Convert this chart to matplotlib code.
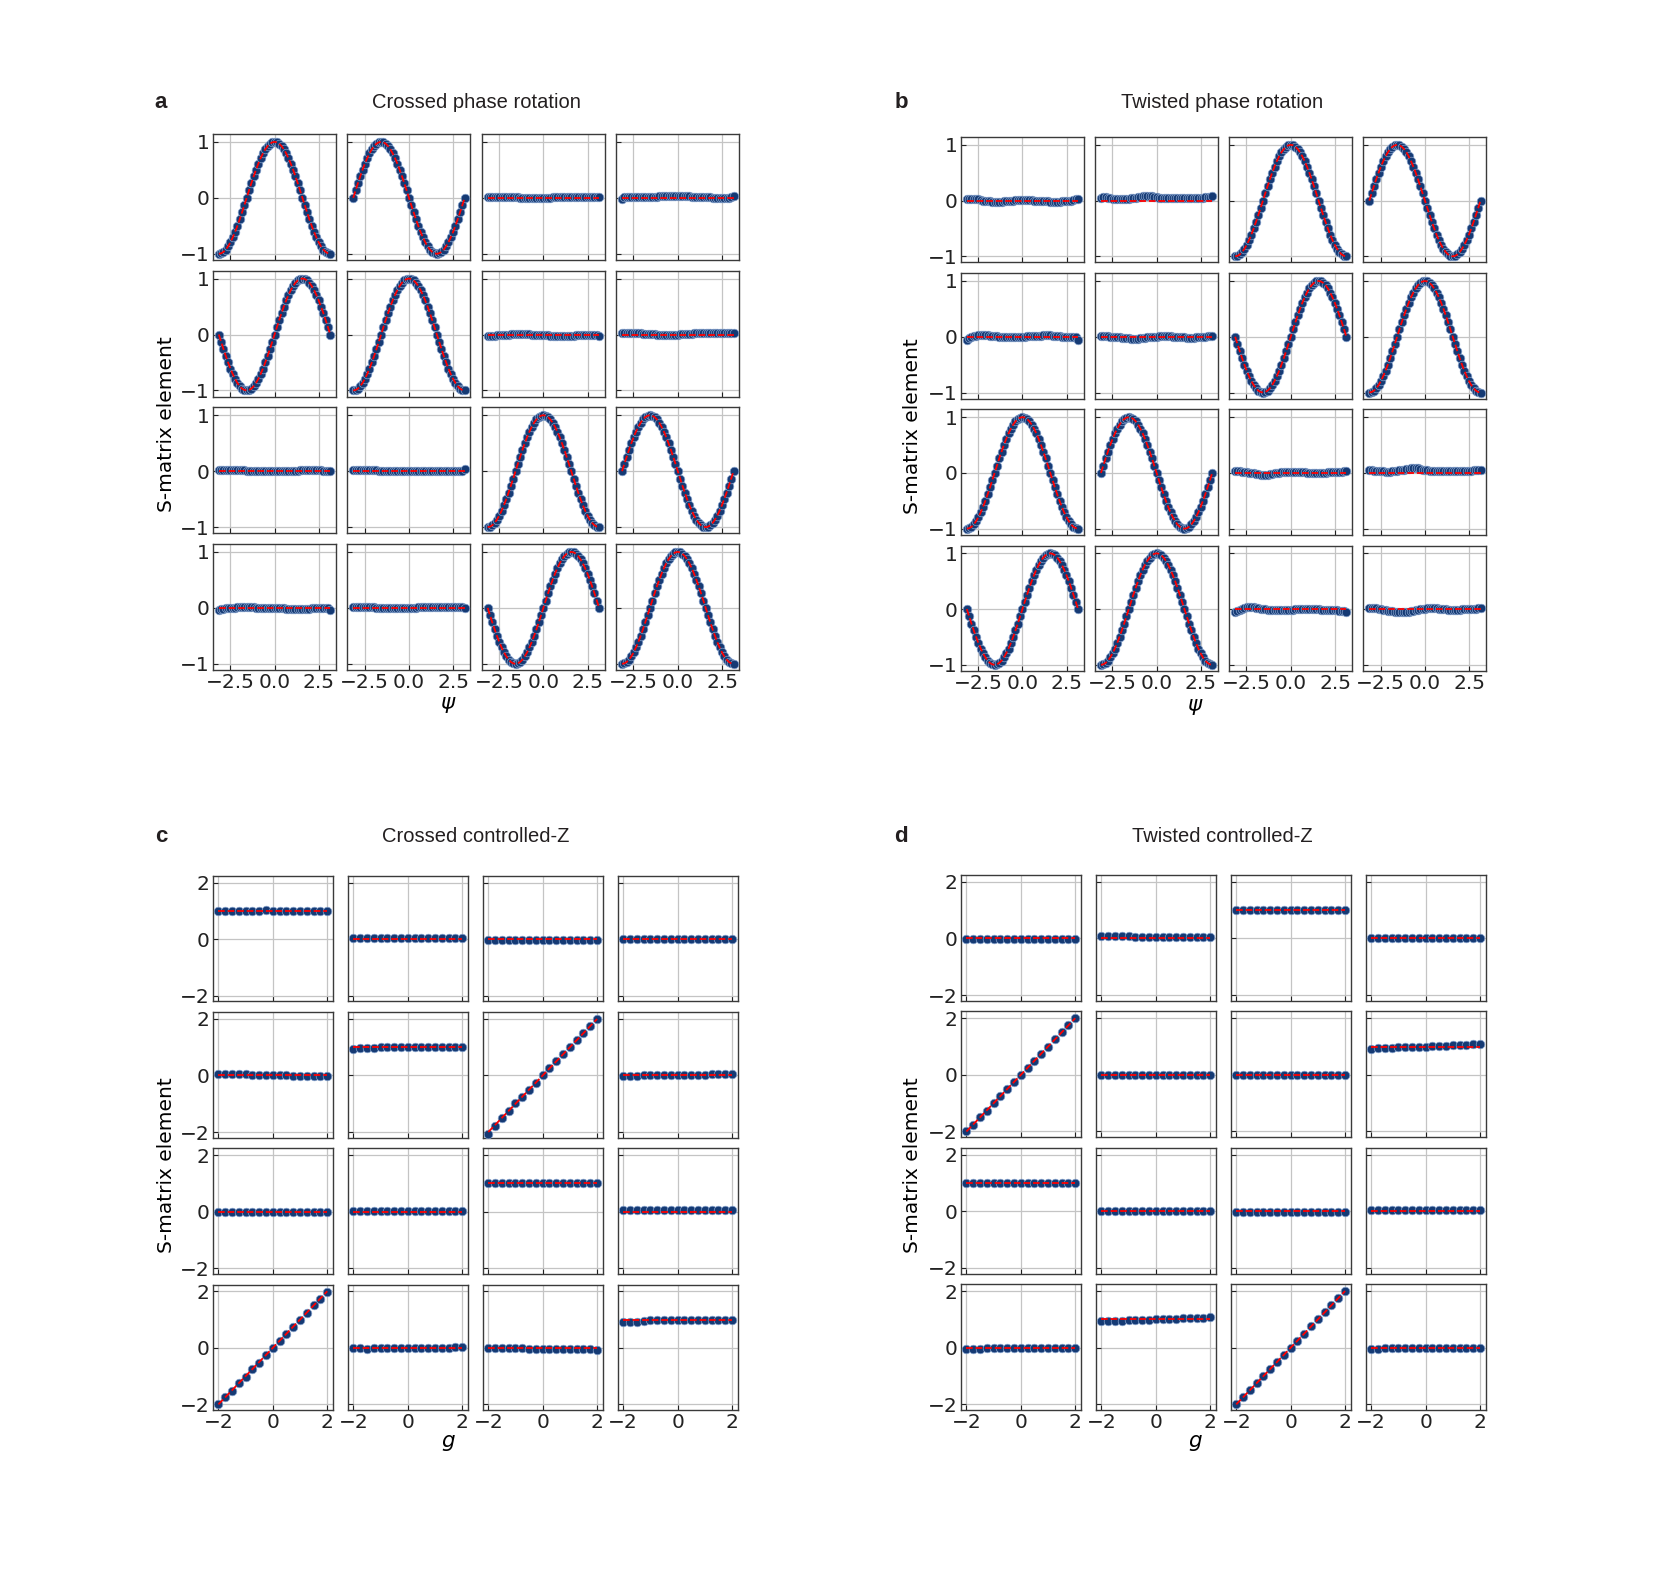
import numpy as np
import matplotlib.pyplot as plt

# canvas in pixels (dpi 100)
W, H = 1661, 1569

# ---- data: phase rotation (psi grid, 49 samples) ----
psi = np.linspace(-np.pi, np.pi, 49)
cos_vals = [-1, -0.991, -0.966, -0.924, -0.866, -0.793, -0.707, -0.609, -0.5,
            -0.383, -0.259, -0.131, 0, 0.131, 0.259, 0.383, 0.5, 0.609, 0.707,
            0.793, 0.866, 0.924, 0.966, 0.991, 1, 0.991, 0.966, 0.924, 0.866,
            0.793, 0.707, 0.609, 0.5, 0.383, 0.259, 0.131, 0, -0.131, -0.259,
            -0.383, -0.5, -0.609, -0.707, -0.793, -0.866, -0.924, -0.966,
            -0.991, -1]
sin_vals = [0, -0.131, -0.259, -0.383, -0.5, -0.609, -0.707, -0.793, -0.866,
            -0.924, -0.966, -0.991, -1, -0.991, -0.966, -0.924, -0.866, -0.793,
            -0.707, -0.609, -0.5, -0.383, -0.259, -0.131, 0, 0.131, 0.259,
            0.383, 0.5, 0.609, 0.707, 0.793, 0.866, 0.924, 0.966, 0.991, 1,
            0.991, 0.966, 0.924, 0.866, 0.793, 0.707, 0.609, 0.5, 0.383, 0.259,
            0.131, 0]

# which S-matrix element sits in each cell
crossed_rot = [['cos', '-sin', 0, 0],
               ['sin', 'cos', 0, 0],
               [0, 0, 'cos', '-sin'],
               [0, 0, 'sin', 'cos']]
twisted_rot = [[0, 0, 'cos', '-sin'],
               [0, 0, 'sin', 'cos'],
               ['cos', '-sin', 0, 0],
               ['sin', 'cos', 0, 0]]

# measured residuals of the zero elements, in units of 0.01
crossed_rot_zero = {
    (0, 2): [2, 2, 2, 2, 2, 2, 2, 2, 2, 2, 1, 1, 1, 1, 0, 0, 0, 0, -1, -1, -1,
             -1, -1, 0, 0, 0, 0, 0, 1, 1, 1, 1, 2, 2, 2, 2, 2, 2, 2, 2, 2, 1,
             1, 1, 1, 1, 1, 1, 1],
    (0, 3): [-2, 1, 2, 2, 2, 2, 2, 2, 2, 2, 2, 2, 2, 2, 2, 2, 3, 3, 3, 3, 3,
             3, 3, 3, 3, 3, 3, 3, 3, 3, 2, 2, 2, 2, 2, 2, 1, 1, 1, 0, 0, 0,
             -1, -1, -1, 0, 0, 1, 4],
    (1, 2): [-3, -2, -2, -2, -1, -1, -1, 0, 0, 0, 1, 1, 1, 1, 1, 1, 1, 1, 1, 0,
             0, 0, 0, -1, -1, -1, -1, -2, -2, -2, -2, -2, -2, -2, -2, -2, -2,
             -2, -1, -1, -1, -1, -1, -1, -1, -1, -1, -1, -2],
    (1, 3): [2, 2, 2, 2, 2, 2, 2, 2, 2, 1, 1, 1, 1, 1, 1, 0, 0, 0, 0, 0, 0, 0,
             0, 0, 0, 1, 1, 1, 1, 1, 1, 2, 2, 2, 2, 2, 2, 3, 3, 3, 3, 3, 3, 2,
             2, 2, 2, 2, 2],
    (2, 0): [2, 2, 2, 2, 2, 2, 2, 2, 2, 2, 2, 2, 1, 1, 1, 1, 1, 1, 1, 1, 0, 0,
             0, 0, 0, 0, 1, 1, 1, 1, 1, 1, 1, 1, 1, 2, 2, 2, 2, 2, 2, 2, 2, 2,
             2, 1, 1, 1, 1],
    (2, 1): [2, 2, 2, 2, 2, 2, 2, 2, 2, 2, 2, 1, 1, 1, 1, 1, 1, 1, 1, 1, 1, 1,
             1, 1, 1, 1, 1, 1, 1, 1, 1, 1, 1, 1, 1, 1, 1, 1, 1, 1, 0, 0, 0, 0,
             0, 0, 0, 1, 4],
    (3, 0): [-3, -2, -2, -1, -1, 0, 0, 0, 1, 1, 1, 1, 1, 1, 1, 1, 0, 0, 0, 0, 0,
             -1, -1, -1, -1, -1, -1, -1, -1, -2, -2, -2, -2, -2, -2, -2, -2,
             -2, -2, -2, -1, -1, -1, -1, -1, -1, -1, -1, -4],
    (3, 1): [1, 1, 1, 1, 1, 1, 1, 1, 1, 1, 0, 0, 0, 0, 0, -1, -1, -1, -1, -1,
             -1, -1, -1, 0, 0, 0, 0, 0, 1, 1, 1, 1, 1, 1, 1, 2, 2, 2, 2, 2, 2,
             2, 2, 2, 2, 1, 1, 1, 0],
}
twisted_rot_zero = {
    (0, 0): [2, 3, 3, 3, 2, 2, 1, 0, 0, -1, -1, -2, -2, -2, -2, -2, -1, -1, 0,
             0, 0, 1, 1, 1, 1, 1, 1, 1, 1, 0, 0, 0, -1, -1, -1, -1, -2, -2,
             -2, -2, -2, -1, -1, -1, 0, 0, 1, 2, 2],
    (0, 1): [5, 6, 6, 5, 4, 3, 2, 2, 2, 2, 2, 3, 3, 4, 4, 5, 6, 7, 8, 8, 9, 9,
             8, 7, 6, 5, 5, 4, 4, 4, 4, 4, 4, 4, 4, 4, 4, 4, 5, 5, 5, 5, 5, 5,
             5, 6, 6, 6, 9],
    (1, 0): [-5, -3, -1, 1, 2, 3, 3, 3, 3, 3, 2, 2, 1, 1, 0, 0, 0, 0, 0, 0, 0,
             0, 0, 0, 0, 0, 1, 1, 1, 1, 2, 2, 2, 3, 3, 3, 3, 2, 2, 1, 1, 0, 0,
             -1, -1, -1, -1, -1, -5],
    (1, 1): [1, 1, 1, 1, 0, 0, 0, -1, -1, -2, -2, -3, -3, -4, -4, -4, -4, -3,
             -3, -2, -1, -1, 0, 0, 0, 1, 1, 1, 1, 1, 1, 0, 0, 0, -1, -1, -1,
             -2, -2, -2, -2, -1, -1, 0, 0, 0, 1, 1, 1],
    (2, 2): [3, 3, 3, 2, 2, 1, 0, 0, -1, -2, -2, -3, -3, -3, -3, -2, -2, -1, 0,
             0, 1, 1, 2, 2, 2, 2, 2, 2, 1, 1, 1, 0, 0, 0, -1, -1, -1, 0, 0, 0,
             1, 1, 1, 2, 2, 2, 2, 3, 3],
    (2, 3): [5, 5, 4, 4, 3, 3, 3, 2, 2, 2, 3, 3, 4, 5, 5, 6, 7, 7, 8, 8, 8, 8,
             7, 6, 5, 5, 4, 4, 3, 3, 3, 3, 3, 3, 3, 3, 3, 3, 4, 4, 4, 4, 4, 4,
             4, 5, 5, 5, 6],
    (3, 2): [-5, -3, -1, 1, 2, 3, 3, 3, 3, 2, 2, 1, 0, 0, -1, -1, -1, -2, -2,
             -2, -2, -2, -2, -2, -1, -1, 0, 0, 1, 1, 1, 1, 1, 1, 0, 0, 0, -1,
             -1, -1, -2, -2, -2, -2, -2, -3, -3, -3, -5],
    (3, 3): [2, 2, 2, 2, 1, 0, -1, -2, -3, -4, -4, -5, -5, -6, -6, -6, -6, -5,
             -4, -3, -2, -1, 0, 1, 1, 2, 2, 2, 2, 2, 1, 1, 0, 0, -1, -1, -1,
             -1, -1, -1, 0, 0, 0, 1, 1, 1, 1, 2, 2],
}

# ---- data: controlled-Z (g grid, 17 samples) ----
g_vals = [-2.0, -1.75, -1.5, -1.25, -1.0, -0.75, -0.5, -0.25, 0.0,
          0.25, 0.5, 0.75, 1.0, 1.25, 1.5, 1.75, 2.0]

crossed_cz = [[1, 0, 0, 0],
              [0, 1, 'g', 0],
              [0, 0, 1, 0],
              ['g', 0, 0, 1]]
twisted_cz = [[0, 0, 1, 0],
              ['g', 0, 0, 1],
              [1, 0, 0, 0],
              [0, 1, 'g', 0]]

crossed_cz_meas = [
    [[0.99, 1.0, 0.99, 1.0, 1.0, 1.0, 1.01, 1.02, 1.01, 1.01, 1.0, 1.0, 1.0, 1.0, 1.0, 0.99, 0.99],
     [0.05, 0.06, 0.05, 0.05, 0.05, 0.05, 0.05, 0.05, 0.04, 0.04, 0.04, 0.04, 0.04, 0.04, 0.04, 0.05, 0.06],
     [-0.01, -0.01, -0.02, -0.01, -0.01, -0.01, -0.01, -0.01, -0.01, -0.01, -0.02, -0.01, -0.01, -0.01, -0.01, -0.01, -0.01],
     [0.02, 0.02, 0.02, 0.02, 0.02, 0.02, 0.02, 0.02, 0.02, 0.02, 0.02, 0.02, 0.02, 0.02, 0.02, 0.02, 0.02]],
    [[0.07, 0.06, 0.05, 0.04, 0.04, 0.03, 0.03, 0.02, 0.01, 0.01, 0.0, -0.01, -0.01, -0.02, -0.01, -0.01, -0.01],
     [0.93, 0.96, 0.97, 0.98, 0.99, 0.99, 1.0, 1.0, 1.01, 1.01, 1.01, 1.01, 1.0, 1.0, 1.0, 1.0, 1.0],
     [-2.08, -1.78, -1.52, -1.26, -0.98, -0.76, -0.5, -0.26, 0.0, 0.26, 0.5, 0.76, 1.0, 1.26, 1.5, 1.76, 2.0],
     [-0.02, -0.01, -0.01, 0.0, 0.0, 0.0, 0.01, 0.01, 0.02, 0.02, 0.02, 0.03, 0.03, 0.04, 0.04, 0.05, 0.06]],
    [[0.0, 0.0, 0.0, 0.0, 0.0, 0.0, 0.0, 0.0, 0.0, 0.0, 0.0, 0.0, 0.0, 0.0, 0.0, 0.0, 0.0],
     [0.01, 0.01, 0.01, 0.01, 0.01, 0.01, 0.01, 0.01, 0.01, 0.01, 0.01, 0.01, 0.01, 0.01, 0.01, 0.01, 0.01],
     [1.03, 1.03, 1.02, 1.02, 1.02, 1.02, 1.01, 1.01, 1.01, 1.0, 1.0, 1.0, 1.0, 1.0, 1.0, 1.0, 1.0],
     [0.06, 0.06, 0.06, 0.06, 0.06, 0.06, 0.06, 0.05, 0.05, 0.05, 0.05, 0.05, 0.05, 0.05, 0.06, 0.06, 0.06]],
    [[-2.0, -1.75, -1.52, -1.26, -1.02, -0.76, -0.52, -0.27, -0.02, 0.24, 0.5, 0.75, 1.0, 1.24, 1.5, 1.74, 1.99],
     [-0.02, -0.02, -0.03, -0.02, -0.02, -0.02, -0.02, -0.02, -0.02, -0.01, -0.01, -0.01, 0.0, 0.0, 0.01, 0.03, 0.04],
     [0.0, 0.0, 0.0, -0.01, -0.02, -0.02, -0.03, -0.03, -0.04, -0.04, -0.04, -0.04, -0.05, -0.05, -0.05, -0.05, -0.06],
     [0.91, 0.92, 0.93, 0.96, 0.97, 0.97, 0.99, 0.99, 1.0, 1.0, 1.0, 1.0, 1.0, 0.99, 0.99, 0.99, 0.98]],
]
twisted_cz_meas = [
    [[-0.01, -0.01, -0.01, -0.01, -0.01, -0.01, -0.01, -0.01, -0.01, -0.01, -0.01, -0.01, -0.01, -0.01, -0.01, -0.01, -0.01],
     [0.07, 0.07, 0.07, 0.07, 0.07, 0.06, 0.06, 0.06, 0.06, 0.06, 0.06, 0.06, 0.06, 0.06, 0.06, 0.06, 0.06],
     [1.0, 1.01, 1.01, 1.01, 1.01, 1.01, 1.01, 1.0, 1.0, 1.0, 1.0, 1.0, 1.0, 1.0, 1.0, 1.0, 1.0],
     [0.0, 0.0, 0.0, 0.0, 0.0, 0.0, 0.0, 0.0, 0.0, 0.0, 0.0, 0.0, 0.0, 0.0, 0.0, 0.0, 0.0]],
    [[-2.0, -1.76, -1.5, -1.26, -1.0, -0.76, -0.5, -0.26, -0.01, 0.25, 0.5, 0.75, 1.0, 1.25, 1.5, 1.75, 2.0],
     [-0.02, -0.02, -0.02, -0.02, -0.02, -0.02, -0.02, -0.02, -0.02, -0.02, -0.02, -0.02, -0.02, -0.02, -0.02, -0.02, -0.02],
     [-0.01, -0.01, -0.01, -0.01, -0.01, -0.01, -0.01, -0.02, -0.02, -0.02, -0.02, -0.02, -0.02, -0.02, -0.02, -0.02, -0.02],
     [0.93, 0.94, 0.95, 0.96, 0.97, 0.97, 0.98, 0.99, 1.0, 1.01, 1.02, 1.03, 1.04, 1.05, 1.06, 1.08, 1.1]],
    [[1.0, 1.0, 1.0, 1.0, 1.0, 1.0, 1.0, 1.0, 1.0, 1.0, 1.0, 1.0, 1.0, 1.0, 1.0, 1.0, 1.0],
     [0.0, 0.0, 0.0, 0.0, 0.0, 0.0, 0.0, 0.0, 0.0, 0.0, 0.0, 0.0, 0.0, 0.0, 0.0, 0.0, 0.0],
     [-0.01, -0.01, -0.01, -0.01, -0.01, -0.01, -0.01, -0.01, -0.01, -0.01, -0.01, -0.01, -0.01, -0.01, -0.01, -0.01, -0.01],
     [0.05, 0.05, 0.05, 0.05, 0.05, 0.05, 0.05, 0.05, 0.05, 0.05, 0.05, 0.05, 0.05, 0.05, 0.05, 0.05, 0.05]],
    [[-0.03, -0.03, -0.03, -0.02, -0.02, -0.02, -0.02, -0.01, -0.01, -0.01, -0.01, -0.01, 0.0, 0.0, 0.0, 0.0, 0.0],
     [0.93, 0.94, 0.95, 0.96, 0.97, 0.98, 0.98, 0.99, 1.0, 1.01, 1.02, 1.03, 1.04, 1.04, 1.05, 1.06, 1.07],
     [-2.0, -1.75, -1.5, -1.25, -1.0, -0.75, -0.5, -0.25, 0.0, 0.25, 0.5, 0.75, 1.0, 1.25, 1.5, 1.75, 2.0],
     [-0.03, -0.03, -0.02, -0.02, -0.02, -0.01, -0.01, 0.0, 0.0, 0.0, 0.0, 0.0, 0.0, -0.01, -0.01, -0.01, -0.01]],
]

# ---- styles ----
DOT = dict(ls='none', marker='o', ms=6.2, mfc='#153a74', mec='#86a2cc', mew=0.5, zorder=3)
FIT = dict(color='red', ls='--', lw=1.3, zorder=4)
TICKFONT = 14.5


def rot_curve(code):
    if code == 'cos':
        return np.array(cos_vals)
    if code == 'sin':
        return np.array(sin_vals)
    if code == '-sin':
        return -np.array(sin_vals)
    return np.zeros(len(psi))


def grid_axes(box, wsp, hsp):
    # box in pixels: left, right, top, bottom
    l, r, t, b = box
    gs = fig.add_gridspec(4, 4, left=l / W, right=r / W, top=1 - t / H,
                          bottom=1 - b / H, wspace=wsp, hspace=hsp)
    return [[fig.add_subplot(gs[i, j]) for j in range(4)] for i in range(4)]


def style(ax, i, j):
    ax.grid(True, color='#c4c4c4', lw=0.9)
    ax.set_axisbelow(True)
    ax.tick_params(direction='in', length=3.5, width=0.8, labelsize=TICKFONT,
                   pad=2.5, colors='#222222')
    for s in ax.spines.values():
        s.set_color('#3a3a3a')
        s.set_linewidth(1.0)
    if i < 3:
        ax.set_xticklabels([])
    if j > 0:
        ax.set_yticklabels([])


def rotation_panel(box, layout, zeros):
    axs = grid_axes(box, 0.095, 0.085)
    for i in range(4):
        for j in range(4):
            ax = axs[i][j]
            code = layout[i][j]
            theo = rot_curve(code)
            meas = theo + 0.01 * np.array(zeros[(i, j)]) if code == 0 else theo
            ax.plot(psi, meas, **DOT)
            ax.plot(psi, theo, **FIT)
            ax.set_xlim(-3.47, 3.45)
            ax.set_ylim(-1.11, 1.14)
            ax.set_xticks([-2.5, 0.0, 2.5])
            ax.set_yticks([-1, 0, 1])
            style(ax, i, j)


def cz_panel(box, layout, meas):
    axs = grid_axes(box, 0.122, 0.085)
    for i in range(4):
        for j in range(4):
            ax = axs[i][j]
            code = layout[i][j]
            theo = g_vals if code == 'g' else [code] * len(g_vals)
            ax.plot(g_vals, meas[i][j], **DOT)
            ax.plot(g_vals, theo, **FIT)
            ax.set_xlim(-2.2, 2.22)
            ax.set_ylim(-2.2, 2.24)
            ax.set_xticks([-2, 0, 2])
            ax.set_yticks([-2, 0, 2])
            style(ax, i, j)


fig = plt.figure(figsize=(W / 100, H / 100), dpi=100)

rotation_panel((213, 739, 134, 670), crossed_rot, crossed_rot_zero)
rotation_panel((961, 1486, 137, 671), twisted_rot, twisted_rot_zero)
cz_panel((213, 738, 876, 1410), crossed_cz, crossed_cz_meas)
cz_panel((961, 1486, 875, 1410), twisted_cz, twisted_cz_meas)

# panel letters, titles and shared labels
heads = [(161, 102, 'a', 476, 'Crossed phase rotation'),
         (901, 102, 'b', 1222, 'Twisted phase rotation'),
         (161, 836, 'c', 476, 'Crossed controlled-Z'),
         (901, 836, 'd', 1222, 'Twisted controlled-Z')]
for lx, ly, letter, tx, title in heads:
    fig.text(lx / W, 1 - ly / H, letter, fontsize=16, fontweight='bold',
             family='Liberation Sans', ha='center', va='center', color='#231f20')
    fig.text(tx / W, 1 - ly / H, title, fontsize=14.5,
             family='Liberation Sans', ha='center', va='center', color='#231f20')

for x, y in [(166, 424), (913, 426), (166, 1165), (913, 1165)]:
    fig.text(x / W, 1 - y / H, 'S-matrix element', fontsize=14.5,
             rotation=90, ha='center', va='center')

for x, y, sym in [(448, 705, r'$\psi$'), (1195, 707, r'$\psi$'),
                  (448, 1443, r'$g$'), (1195, 1443, r'$g$')]:
    fig.text(x / W, 1 - y / H, sym, fontsize=15.5, ha='center', va='center')

plt.savefig('out.png', dpi=100)
